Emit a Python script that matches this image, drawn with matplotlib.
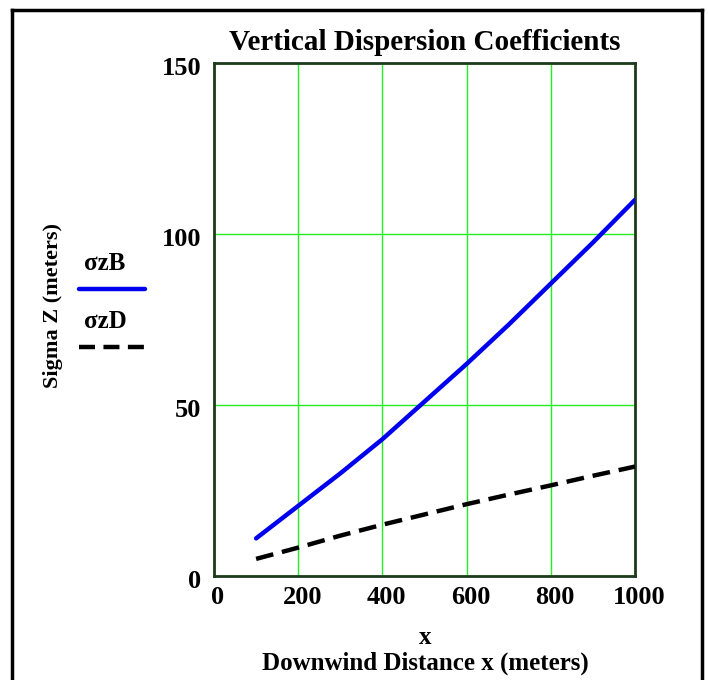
import matplotlib.pyplot as plt
from matplotlib.lines import Line2D
from matplotlib.transforms import ScaledTranslation

# downwind distance (m) and sigma z values (m)
x = [100, 200, 300, 400, 500, 600, 700, 800, 900, 1000]
sigma_zB = [11, 20.5, 30, 40, 51, 62, 73.5, 85.5, 97.5, 110]
sigma_zD = [5, 8.3, 11.8, 15, 18, 21, 23.8, 26.5, 29.3, 32]

xticks = [0, 200, 400, 600, 800, 1000]
yticks = [0, 50, 100, 150]

plt.rcParams['font.family'] = ['Liberation Serif', 'DejaVu Serif']
plt.rcParams['font.weight'] = 'bold'

fig = plt.figure(figsize=(7.08, 6.8), dpi=100)
ax = fig.add_axes([214/708, 1-576/680, 421/708, 513/680])

ax.plot(x, sigma_zB, color='#0000ee', lw=3.2, solid_capstyle='round', zorder=3)
ax.plot(x, sigma_zD, color='black', lw=3.2, dashes=(4, 2), zorder=3)

ax.set_xlim(0, 1000)
ax.set_ylim(0, 150)
ax.set_xticks(xticks)
ax.set_yticks(yticks)
ax.grid(True, color='#22ee22', lw=1)
ax.tick_params(length=0, labelsize=19)
ax.tick_params(axis='x', pad=7)
ax.tick_params(axis='y', pad=9)
for s in ax.spines.values():
    s.set_color('#1c3a1c')
    s.set_linewidth(2)

# Mathcad nudges the tick labels a little
for lab in ax.get_xticklabels():
    lab.set_transform(lab.get_transform() + ScaledTranslation(4/100, 0, fig.dpi_scale_trans))
for lab in ax.get_yticklabels():
    lab.set_transform(lab.get_transform() + ScaledTranslation(0, -3/100, fig.dpi_scale_trans))

fig.text(425/708, 1-42/680, 'Vertical Dispersion Coefficients', fontsize=21,
         fontweight='bold', ha='center', va='center')
fig.text(425/708, 1-638/680, 'x', fontsize=18, fontweight='bold', ha='center', va='center')
fig.text(425/708, 1-663/680, 'Downwind Distance x (meters)', fontsize=18,
         fontweight='bold', ha='center', va='center')
fig.text(53/708, 1-305/680, 'Sigma Z (meters)', rotation=90, fontsize=16,
         fontweight='bold', ha='center', va='center')

# legend, Mathcad style
fig.text(105/708, 1-263/680, '\u03c3zB', fontsize=18, fontweight='bold', ha='center', va='center')
fig.add_artist(Line2D([79/708, 145/708], [1-289/680, 1-289/680], color='#0000ee', lw=3.2,
                      solid_capstyle='round', transform=fig.transFigure))
fig.text(105/708, 1-321/680, '\u03c3zD', fontsize=18, fontweight='bold', ha='center', va='center')
fig.add_artist(Line2D([79/708, 145/708], [1-347/680, 1-347/680], color='black', lw=3.2,
                      dashes=(3.6, 1.9), transform=fig.transFigure))

# outer frame (open at bottom)
fr = dict(color='black', lw=2.5, transform=fig.transFigure)
fig.add_artist(Line2D([12/708, 12/708], [0, 1-10/680], **fr))
fig.add_artist(Line2D([12/708, 702/708], [1-10/680, 1-10/680], **fr))
fig.add_artist(Line2D([702/708, 702/708], [0, 1-10/680], **fr))

plt.savefig('out.png', dpi=100)
